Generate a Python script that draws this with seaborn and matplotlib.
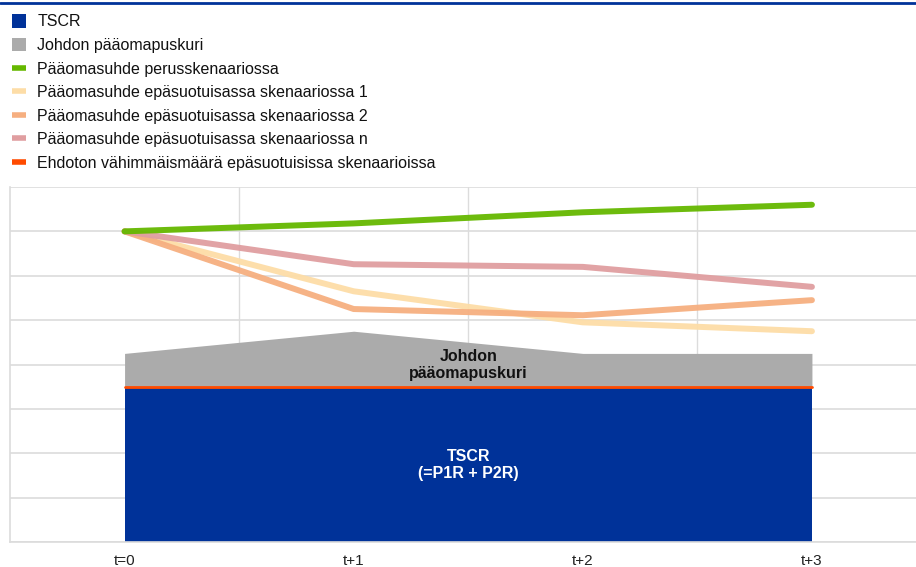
import matplotlib
matplotlib.use("Agg")
import matplotlib.pyplot as plt
from matplotlib.lines import Line2D
from matplotlib.patches import Patch
import seaborn as sns
import pandas as pd

# Periods and capital levels (arbitrary units)
periods = ["t=0", "t+1", "t+2", "t+3"]
tscr = [3.5, 3.5, 3.5, 3.5]
management_buffer_top = [4.25, 4.75, 4.25, 4.25]
absolute_minimum = [3.5, 3.5, 3.5, 3.5]
baseline = [7.0, 7.18, 7.43, 7.6]
adverse_1 = [7.0, 5.65, 4.95, 4.75]
adverse_2 = [7.0, 5.25, 5.11, 5.45]
adverse_n = [7.0, 6.26, 6.2, 5.75]

labels = [
    "TSCR",
    "Johdon pääomapuskuri",
    "Pääomasuhde perusskenaariossa",
    "Pääomasuhde epäsuotuisassa skenaariossa 1",
    "Pääomasuhde epäsuotuisassa skenaariossa 2",
    "Pääomasuhde epäsuotuisassa skenaariossa n",
    "Ehdoton vähimmäismäärä epäsuotuisissa skenaarioissa",
]

c_blue = "#003299"
c_grey = "#ABABAB"
c_green = "#65B800"
c_adv1 = "#FDDDA7"
c_adv2 = "#F6AF80"
c_advn = "#E09EA0"
c_min = "#FF4B00"

sns.set_theme(style="white")
plt.rcParams["font.family"] = ["Liberation Sans", "DejaVu Sans"]

fig = plt.figure(figsize=(9.16, 5.67), dpi=100)
ax = fig.add_axes([10 / 916, 1 - 542 / 567, 916.5 / 916, 355 / 567])

x = list(range(len(periods)))

# Stacked areas: TSCR and management buffer
ax.fill_between(x, 0, tscr, color=c_blue, linewidth=0, zorder=2)
ax.fill_between(x, tscr, management_buffer_top, color=c_grey, linewidth=0, zorder=2)

# Capital ratio paths
df = pd.DataFrame({
    "period": x * 5,
    "value": absolute_minimum + baseline + adverse_1 + adverse_2 + adverse_n,
    "series": [labels[6]] * 4 + [labels[2]] * 4 + [labels[3]] * 4
              + [labels[4]] * 4 + [labels[5]] * 4,
})
widths = {labels[6]: 2.0, labels[2]: 4.3, labels[3]: 4.3, labels[4]: 4.3, labels[5]: 4.3}
palette = {labels[6]: c_min, labels[2]: c_green, labels[3]: c_adv1,
           labels[4]: c_adv2, labels[5]: c_advn}
for name in [labels[6], labels[3], labels[4], labels[5], labels[2]]:
    sub = df[df["series"] == name]
    sns.lineplot(data=sub, x="period", y="value", ax=ax, color=palette[name],
                 linewidth=widths[name], solid_capstyle="round",
                 legend=False, zorder=4, alpha=0.95 if name != labels[6] else 1)

ax.text(1.5, 3.99, "Johdon\npääomapuskuri", ha="center", va="center",
        fontsize=11.5, fontweight="bold", color="#111111", zorder=5, linespacing=1.12)
ax.text(1.5, 1.74, "TSCR\n(=P1R + P2R)", ha="center", va="center",
        fontsize=11.5, fontweight="bold", color="white", zorder=5, linespacing=1.12)

ax.set_xlim(-0.5, 3.5)
ax.set_ylim(0, 8)
ax.set_xticks(x)
ax.set_xticklabels(periods, fontsize=11, color="#222222")
ax.set_xticks([0.5, 1.5, 2.5], minor=True)
ax.set_yticks(range(0, 9))
ax.set_yticklabels([])
ax.set_xlabel("")
ax.set_ylabel("")
ax.tick_params(axis="x", which="both", length=0, pad=8.8)
ax.tick_params(axis="y", length=0)
ax.grid(False)
ax.yaxis.grid(True, color="#DCDCDC", linewidth=1.2, zorder=0)
ax.xaxis.grid(True, which="minor", color="#DCDCDC", linewidth=1.0, zorder=0)
ax.set_axisbelow(True)
for side in ["top", "right"]:
    ax.spines[side].set_visible(False)
for side in ["left", "bottom"]:
    ax.spines[side].set_color("#DCDCDC")
    ax.spines[side].set_linewidth(1.2)

# Top rule
fig.add_artist(Line2D([0, 1], [1 - 2.5 / 567, 1 - 2.5 / 567], transform=fig.transFigure,
                      color=c_blue, linewidth=2))

handles = [
    Patch(facecolor=c_blue, edgecolor="none"),
    Patch(facecolor=c_grey, edgecolor="none"),
    Line2D([], [], color=c_green, linewidth=4, solid_capstyle="butt"),
    Line2D([], [], color=c_adv1, linewidth=4, solid_capstyle="butt"),
    Line2D([], [], color=c_adv2, linewidth=4, solid_capstyle="butt"),
    Line2D([], [], color=c_advn, linewidth=4, solid_capstyle="butt"),
    Line2D([], [], color=c_min, linewidth=4, solid_capstyle="butt"),
]
fig.legend(handles, labels, loc="upper left", bbox_to_anchor=(7 / 916, 1 - 9.5 / 567),
           frameon=False, fontsize=11.5, handlelength=0.9, handleheight=0.9,
           handletextpad=0.7, labelspacing=0.53, borderaxespad=0, borderpad=0.3,
           labelcolor="#111111")

fig.savefig("out.png", dpi=100)
